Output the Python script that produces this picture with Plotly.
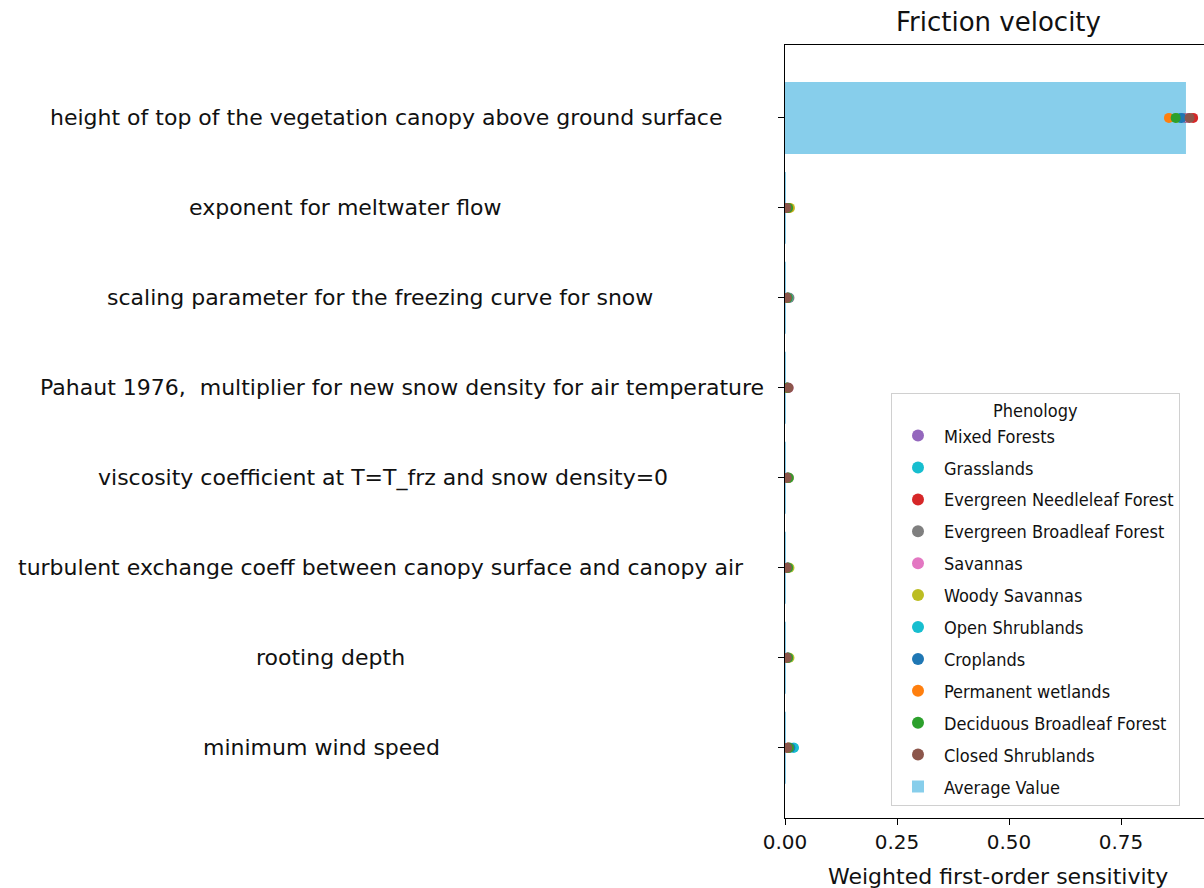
import plotly.graph_objects as go

# Parameters, listed top to bottom
parameters = [
    "height of top of the vegetation canopy above ground surface",
    "exponent for meltwater flow",
    "scaling parameter for the freezing curve for snow",
    "Pahaut 1976,\u00a0 multiplier for new snow density for air temperature",
    "viscosity coefficient at T=T_frz and snow density=0",
    "turbulent exchange coeff between canopy surface and canopy air",
    "rooting depth",
    "minimum wind speed",
]

# Weighted first-order sensitivity per phenology class (same order as parameters)
mixed_forests = [0.893, 0.006, 0.008, 0.005, 0.006, 0.006, 0.006, 0.007]
grasslands = [0.880, 0.006, 0.006, 0.004, 0.006, 0.007, 0.007, 0.019]
evergreen_needleleaf = [0.911, 0.005, 0.006, 0.004, 0.005, 0.005, 0.005, 0.006]
evergreen_broadleaf = [0.896, 0.006, 0.010, 0.005, 0.009, 0.006, 0.006, 0.007]
savannas = [0.900, 0.005, 0.006, 0.008, 0.005, 0.006, 0.007, 0.008]
woody_savannas = [0.875, 0.011, 0.006, 0.004, 0.008, 0.010, 0.010, 0.010]
open_shrublands = [0.882, 0.006, 0.007, 0.005, 0.006, 0.007, 0.007, 0.020]
croplands = [0.885, 0.005, 0.005, 0.004, 0.005, 0.005, 0.006, 0.012]
permanent_wetlands = [0.857, 0.008, 0.005, 0.004, 0.006, 0.006, 0.006, 0.008]
deciduous_broadleaf = [0.872, 0.007, 0.006, 0.005, 0.008, 0.007, 0.007, 0.009]
closed_shrublands = [0.903, 0.003, 0.004, 0.008, 0.004, 0.004, 0.004, 0.005]

average_value = [0.895, 0.001, 0.001, 0.001, 0.001, 0.001, 0.001, 0.002]

phenology = [
    ("Mixed Forests", mixed_forests, "#9467bd"),
    ("Grasslands", grasslands, "#17becf"),
    ("Evergreen Needleleaf Forest", evergreen_needleleaf, "#d62728"),
    ("Evergreen Broadleaf Forest", evergreen_broadleaf, "#7f7f7f"),
    ("Savannas", savannas, "#e377c2"),
    ("Woody Savannas", woody_savannas, "#bcbd22"),
    ("Open Shrublands", open_shrublands, "#17becf"),
    ("Croplands", croplands, "#1f77b4"),
    ("Permanent wetlands", permanent_wetlands, "#ff7f0e"),
    ("Deciduous Broadleaf Forest", deciduous_broadleaf, "#2ca02c"),
    ("Closed Shrublands", closed_shrublands, "#8c564b"),
]

n = len(parameters)
ypos = [n - 1 - i for i in range(n)]

# Layout geometry (pixels)
W, H = 1204, 888
L, R, T, B = 785, 0, 45, 70
plot_w = W - L - R
plot_h = H - T - B
px_per_unit = 448 / 1.0  # 0.25 per 112 px
x_max = plot_w / px_per_unit
label_centers_px = [386, 346, 380, 402, 383, 381, 331, 321]

FONT = "DejaVu Sans"
LEGEND_FONT = "DejaVu Sans Condensed, Liberation Sans Narrow, DejaVu Sans"

fig = go.Figure()

fig.add_trace(go.Bar(
    x=average_value, y=ypos, orientation="h", width=0.8,
    marker=dict(color="#87ceeb", line=dict(width=0)),
    name="Average Value", legendrank=2000, legendgroup="avg",
))

for name, vals, color in phenology:
    fig.add_trace(go.Scatter(
        x=vals, y=ypos, mode="markers", name=name, legendgroup=name,
        marker=dict(color=color, size=10, line=dict(width=0)),
    ))

annotations = []
for label, ypx, cx in zip(parameters, ypos, label_centers_px):
    annotations.append(dict(
        text=label, x=(cx - L) / plot_w, xref="paper", y=ypx, yref="y",
        xanchor="center", yanchor="middle", showarrow=False,
        font=dict(family=FONT, size=22, color="#111"),
    ))

# Axes title above the plot area
annotations.append(dict(
    text="Friction velocity", x=(998 - L) / plot_w, xref="paper",
    y=1 + (T - 22) / plot_h, yref="paper",
    showarrow=False, xanchor="center", yanchor="middle",
    font=dict(family=FONT, size=26, color="#111"),
))

# x-axis label
annotations.append(dict(
    text="Weighted first-order sensitivity", x=(998 - L) / plot_w, xref="paper",
    y=-(876 - (T + plot_h)) / plot_h, yref="paper",
    showarrow=False, xanchor="center", yanchor="middle",
    font=dict(family=FONT, size=22, color="#111"),
))

fig.update_layout(
    width=W, height=H,
    margin=dict(l=L, r=R, t=T, b=B, pad=0),
    paper_bgcolor="white", plot_bgcolor="white",
    showlegend=True,
    legend=dict(
        x=(891 - L) / plot_w, y=(T + plot_h - 393) / plot_h,
        xanchor="left", yanchor="top",
        bgcolor="rgba(255,255,255,0.8)", bordercolor="#d0d0d0", borderwidth=1,
        font=dict(family=LEGEND_FONT, size=18, color="#111"),
        title=dict(text="Phenology", side="top center",
                   font=dict(family=LEGEND_FONT, size=18, color="#111")),
        itemsizing="constant", itemwidth=42, tracegroupgap=5.5,
    ),
    xaxis=dict(
        range=[0, x_max], tickvals=[0, 0.25, 0.5, 0.75],
        ticktext=["0.00", "0.25", "0.50", "0.75"],
        ticks="outside", ticklen=6, tickcolor="black", tickwidth=1.2,
        showline=True, linecolor="black", linewidth=1.2, mirror=True,
        showgrid=False, zeroline=False,
        tickfont=dict(family=FONT, size=20, color="#111"),
    ),
    yaxis=dict(
        range=[-0.78, n - 1 + 0.81], tickvals=ypos, ticktext=[""] * n,
        ticks="outside", ticklen=6, tickcolor="black", tickwidth=1.2,
        showline=True, linecolor="black", linewidth=1.2,
        showgrid=False, zeroline=False,
    ),
    annotations=annotations,
)

fig.write_html("out.html")
